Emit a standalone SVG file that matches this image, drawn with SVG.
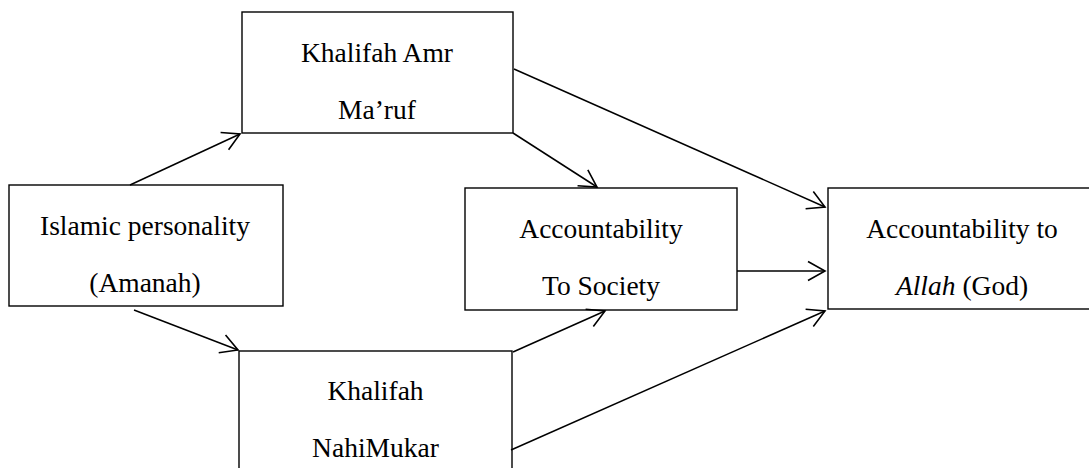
<svg xmlns="http://www.w3.org/2000/svg" width="1089" height="468" viewBox="0 0 1089 468">
<style>
.box{fill:#fff;stroke:#000;stroke-width:1.4}
.t{font-size:27.5px;fill:#000;text-anchor:middle}
.c{stroke:#000;stroke-width:1.5;fill:none;marker-end:url(#ah)}
</style>
<defs>
<marker id="ah" markerUnits="userSpaceOnUse" markerWidth="24" markerHeight="24" viewBox="-20 -12 24 24" refX="0" refY="0" orient="auto">
<path d="M-17,-9.5 L0,0 L-17,9.5" fill="none" stroke="#000" stroke-width="1.6"/>
</marker>
</defs>
<rect width="1089" height="468" fill="#fff"/>
<g font-family="'Liberation Serif', 'Times New Roman', serif">
<g id="n-khalifah-amr">
<rect class="box" x="242" y="12" width="271" height="121"/>
<text class="t" x="377" y="62">Khalifah Amr</text>
<text class="t" x="377" y="119">Ma’ruf</text>
</g>
<g id="n-islamic">
<rect class="box" x="9" y="185" width="274" height="121"/>
<text class="t" x="145" y="235">Islamic personality</text>
<text class="t" x="145" y="292">(Amanah)</text>
</g>
<g id="n-society">
<rect class="box" x="465" y="188" width="272" height="122"/>
<text class="t" x="601" y="238">Accountability</text>
<text class="t" x="601" y="295">To Society</text>
</g>
<g id="n-allah">
<rect class="box" x="828" y="188" width="270" height="121"/>
<text class="t" x="962" y="238">Accountability to</text>
<text class="t" x="962" y="295"><tspan font-style="italic">Allah</tspan> (God)</text>
</g>
<g id="n-nahi">
<rect class="box" x="239" y="351" width="273" height="140"/>
<text class="t" x="375.5" y="400">Khalifah</text>
<text class="t" x="375.5" y="457">NahiMukar</text>
</g>
</g>
<g id="connectors">
<line class="c" x1="130" y1="185" x2="240" y2="134"/>
<line class="c" x1="134" y1="310" x2="238" y2="350"/>
<line class="c" x1="513" y1="133" x2="597" y2="187"/>
<line class="c" x1="514" y1="69" x2="825" y2="207"/>
<line class="c" x1="737" y1="271" x2="825" y2="271"/>
<line class="c" x1="513" y1="352" x2="605" y2="311"/>
<line class="c" x1="511" y1="450" x2="825" y2="311"/>
</g>
</svg>
